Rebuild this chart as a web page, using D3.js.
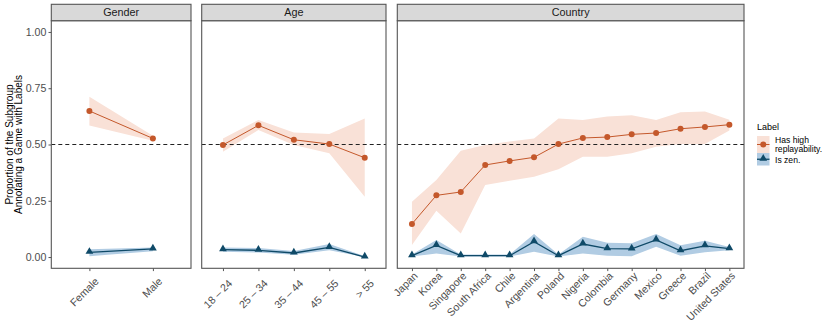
<!DOCTYPE html>
<html>
<head>
<meta charset="utf-8">
<script src="https://cdn.jsdelivr.net/npm/d3@7"></script>
<style>
  html, body { margin: 0; padding: 0; background: #fff; }
  svg { display: block; font-family: "Liberation Sans", Arial, Helvetica, sans-serif; }
</style>
</head>
<body>
<svg id="chart" width="830" height="332"></svg>
<script>
// ---------------- data ----------------
const yTicks = [0, 0.25, 0.5, 0.75, 1.0];
const yTickLabels = ["0.00", "0.25", "0.50", "0.75", "1.00"];
const referenceLine = 0.5;

const facetNames = ["Gender", "Age", "Country"];
const legendTitle = "Label";
const seriesLabels = [["Has high", "replayability."], ["Is zen."]];

const genderCats   = ["Female", "Male"];
const genderHigh   = [0.649, 0.527];
const genderHighLo = [0.584, 0.517];
const genderHighHi = [0.712, 0.539];
const genderZen    = [0.021, 0.036];
const genderZenLo  = [0.004, 0.026];
const genderZenHi  = [0.035, 0.042];

const ageCats   = ["18 – 24", "25 – 34", "35 – 44", "45 – 55", "> 55"];
const ageHigh   = [0.498, 0.585, 0.521, 0.502, 0.441];
const ageHighLo = [0.468, 0.564, 0.498, 0.461, 0.268];
const ageHighHi = [0.527, 0.609, 0.553, 0.547, 0.616];
const ageZen    = [0.033, 0.030, 0.018, 0.043, 0.000];
const ageZenLo  = [0.023, 0.020, 0.010, 0.030, 0.000];
const ageZenHi  = [0.042, 0.040, 0.027, 0.058, 0.004];

const countryCats   = ["Japan", "Korea", "Singapore", "South Africa", "Chile", "Argentina", "Poland",
                       "Nigeria", "Colombia", "Germany", "Mexico", "Greece", "Brazil", "United States"];
const countryHigh   = [0.147, 0.274, 0.289, 0.409, 0.427, 0.443, 0.502, 0.529, 0.533, 0.545, 0.551, 0.570, 0.578, 0.588];
const countryHighLo = [0.053, 0.206, 0.105, 0.320, 0.339, 0.357, 0.390, 0.446, 0.446, 0.461, 0.490, 0.502, 0.502, 0.562];
const countryHighHi = [0.246, 0.342, 0.472, 0.498, 0.513, 0.527, 0.616, 0.609, 0.624, 0.630, 0.609, 0.643, 0.647, 0.610];
const countryZen    = [0.006, 0.052, 0.006, 0.006, 0.006, 0.068, 0.006, 0.058, 0.037, 0.036, 0.076, 0.028, 0.050, 0.037];
const countryZenLo  = [0.002, 0.016, 0.002, 0.002, 0.002, 0.024, 0.002, 0.016, 0.006, 0.004, 0.046, 0.006, 0.021, 0.030];
const countryZenHi  = [0.011, 0.076, 0.011, 0.011, 0.011, 0.102, 0.011, 0.090, 0.064, 0.061, 0.102, 0.052, 0.072, 0.045];

// ---------------- layout / style ----------------
const colHigh = "#c4582b", fillHigh = "#f9e1d7";
const colZen = "#0f4a68", fillZen = "#b1cce3";
const tickCol = "#4d4d4d";

const panelTop = 20.7, panelBottom = 268.3, stripTop = 4.3;
const panels = [
  { name: facetNames[0], cats: genderCats, x0: 51.3, x1: 191.0,
    high: genderHigh, highLo: genderHighLo, highHi: genderHighHi,
    zen: genderZen, zenLo: genderZenLo, zenHi: genderZenHi, ldx: 10, ly: 282 },
  { name: facetNames[1], cats: ageCats, x0: 201.7, x1: 386.0,
    high: ageHigh, highLo: ageHighLo, highHi: ageHighHi,
    zen: ageZen, zenLo: ageZenLo, zenHi: ageZenHi, ldx: 10, ly: 284 },
  { name: facetNames[2], cats: countryCats, x0: 397.3, x1: 744.0,
    high: countryHigh, highLo: countryHighLo, highHi: countryHighHi,
    zen: countryZen, zenLo: countryZenLo, zenHi: countryZenHi, ldx: 6.5, ly: 276.5 }
];

const svg = d3.select("#chart");
const y = d3.scaleLinear().domain([-0.05, 1.05]).range([panelBottom, panelTop]);

const tri = d3.symbol().type(d3.symbolTriangle).size(26);

panels.forEach((p, pi) => {
  const x = d3.scalePoint().domain(p.cats).range([p.x0, p.x1]).padding(0.6);
  const g = svg.append("g");

  const clipId = "clip" + pi;
  svg.append("clipPath").attr("id", clipId)
    .append("rect").attr("x", p.x0).attr("y", panelTop).attr("width", p.x1 - p.x0).attr("height", panelBottom - panelTop);
  const inner = g.append("g").attr("clip-path", `url(#${clipId})`);

  const rows = p.cats.map((c, i) => ({ c, h: p.high[i], hl: p.highLo[i], hh: p.highHi[i],
                                        z: p.zen[i], zl: p.zenLo[i], zh: p.zenHi[i] }));

  // ribbons
  inner.append("path").datum(rows)
    .attr("fill", fillHigh).attr("stroke", "none")
    .attr("d", d3.area().x(d => x(d.c)).y0(d => y(d.hl)).y1(d => y(d.hh)));
  inner.append("path").datum(rows)
    .attr("fill", fillZen).attr("stroke", "none")
    .attr("d", d3.area().x(d => x(d.c)).y0(d => y(d.zl)).y1(d => y(d.zh)));

  // reference line
  inner.append("line")
    .attr("x1", p.x0).attr("x2", p.x1).attr("y1", y(referenceLine)).attr("y2", y(referenceLine))
    .attr("stroke", "#222").attr("stroke-width", 1.1).attr("stroke-dasharray", "4,3");

  // lines
  inner.append("path").datum(rows)
    .attr("fill", "none").attr("stroke", colHigh).attr("stroke-width", 1)
    .attr("d", d3.line().x(d => x(d.c)).y(d => y(d.h)));
  inner.append("path").datum(rows)
    .attr("fill", "none").attr("stroke", colZen).attr("stroke-width", 1.3)
    .attr("d", d3.line().x(d => x(d.c)).y(d => y(d.z)));

  // points
  inner.selectAll("circle.pt").data(rows).enter().append("circle")
    .attr("cx", d => x(d.c)).attr("cy", d => y(d.h)).attr("r", 3.0).attr("fill", colHigh);
  inner.selectAll("path.tri").data(rows).enter().append("path")
    .attr("d", tri).attr("transform", d => `translate(${x(d.c)},${y(d.z) - 0.7})`).attr("fill", colZen);

  // panel border
  g.append("rect").attr("x", p.x0).attr("y", panelTop).attr("width", p.x1 - p.x0).attr("height", panelBottom - panelTop)
    .attr("fill", "none").attr("stroke", "#555").attr("stroke-width", 1.1);

  // strip
  g.append("rect").attr("x", p.x0).attr("y", stripTop).attr("width", p.x1 - p.x0).attr("height", panelTop - stripTop)
    .attr("fill", "#d9d9d9").attr("stroke", "#555").attr("stroke-width", 1.1);
  g.append("text").attr("x", (p.x0 + p.x1) / 2).attr("y", (stripTop + panelTop) / 2 + 3.8)
    .attr("text-anchor", "middle").attr("font-size", 10.8).attr("fill", "#1a1a1a").text(p.name);

  // x axis
  const xAxis = g.append("g").attr("transform", `translate(0,${panelBottom})`)
    .call(d3.axisBottom(x).tickSize(2.8).tickPadding(0));
  xAxis.select(".domain").remove();
  xAxis.selectAll(".tick line").attr("stroke", "#555").attr("stroke-width", 1);
  xAxis.selectAll(".tick text").remove();
  g.selectAll("text.xl").data(p.cats).enter().append("text")
    .attr("text-anchor", "end").attr("font-size", 10.6).attr("fill", tickCol)
    .attr("transform", d => `translate(${x(d) + p.ldx},${p.ly}) rotate(-45)`)
    .text(d => d);

  // y axis (first panel only)
  if (pi === 0) {
    const yAxis = g.append("g").attr("transform", `translate(${p.x0},0)`)
      .call(d3.axisLeft(y).tickValues(yTicks).tickSize(2.8).tickPadding(2.2)
        .tickFormat((d, i) => yTickLabels[i]));
    yAxis.select(".domain").remove();
    yAxis.selectAll(".tick line").attr("stroke", "#555").attr("stroke-width", 1);
    yAxis.selectAll(".tick text").attr("font-size", 10.6).attr("fill", tickCol)
      .attr("font-family", "Liberation Sans, Arial, sans-serif");
  }
});

// y axis title
const yMid = (panelTop + panelBottom) / 2;
const yt = svg.append("text").attr("text-anchor", "middle").attr("font-size", 10).attr("fill", "#000")
  .attr("transform", `translate(12.5,${yMid}) rotate(-90)`);
yt.append("tspan").attr("x", 0).attr("dy", 0).text("Proportion of the Subgroup");
yt.append("tspan").attr("x", 0).attr("dy", 9.3).text("Annotating a Game with Labels");

// legend
const lg = svg.append("g").attr("transform", "translate(757,0)");
lg.append("text").attr("x", 0).attr("y", 130).attr("font-size", 9).attr("fill", "#000").text(legendTitle);
const keys = [
  { y0: 136, h: 17, fill: fillHigh, col: colHigh, shape: "circle", lines: seriesLabels[0], base: 142.5 },
  { y0: 153, h: 12.5, fill: fillZen, col: colZen, shape: "tri", lines: seriesLabels[1], base: 162.5 }
];
keys.forEach((k, i) => {
  lg.append("rect").attr("x", 0).attr("y", k.y0).attr("width", 12.5).attr("height", k.h).attr("fill", k.fill);
  const cy = k.y0 + k.h / 2;
  lg.append("line").attr("x1", 0).attr("x2", 12.5).attr("y1", cy).attr("y2", cy)
    .attr("stroke", k.col).attr("stroke-width", i === 0 ? 1 : 1.3);
  if (k.shape === "circle") lg.append("circle").attr("cx", 6.25).attr("cy", cy).attr("r", 3.0).attr("fill", k.col);
  else lg.append("path").attr("d", tri).attr("transform", `translate(6.25,${cy - 0.7})`).attr("fill", k.col);
  const t = lg.append("text").attr("font-size", 8.6).attr("fill", "#000");
  k.lines.forEach((s, j) => {
    t.append("tspan").attr("x", 18).attr("y", k.base + j * 9).text(s);
  });
});
</script>
</body>
</html>
